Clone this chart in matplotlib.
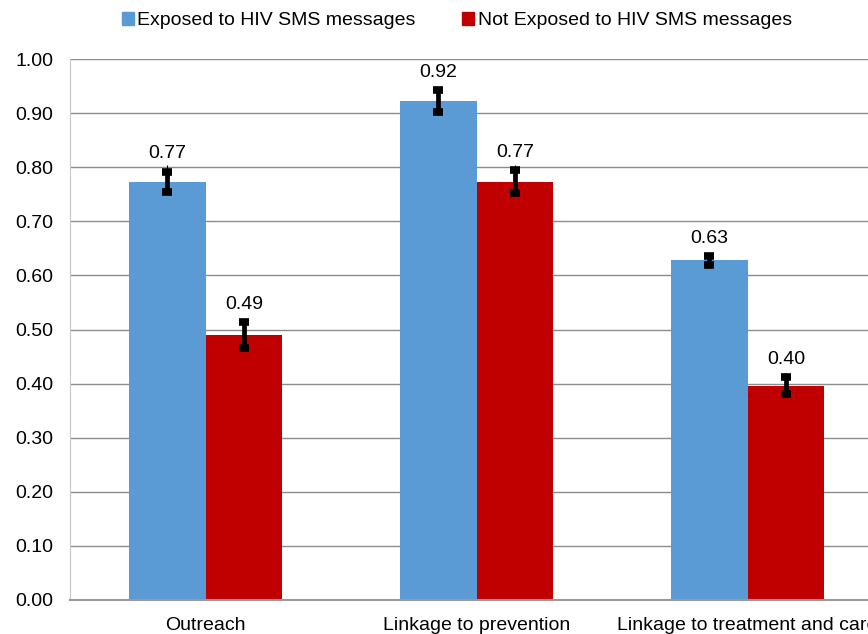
import matplotlib
matplotlib.use("Agg")
import matplotlib.pyplot as plt
from matplotlib.patches import Patch
import numpy as np

categories = ["Outreach", "Linkage to prevention", "Linkage to treatment and care"]
series_names = ["Exposed to HIV SMS messages", "Not Exposed to HIV SMS messages"]
exposed = [0.773, 0.922, 0.628]
not_exposed = [0.490, 0.773, 0.396]
exposed_err = [0.019, 0.020, 0.008]
not_exposed_err = [0.024, 0.021, 0.016]
exposed_upper = [0.031, 0.027, 0.0]
not_exposed_upper = [0.0, 0.031, 0.024]
exposed_labels = ["0.77", "0.92", "0.63"]
not_exposed_labels = ["0.49", "0.77", "0.40"]
yticks = [0.0, 0.1, 0.2, 0.3, 0.4, 0.5, 0.6, 0.7, 0.8, 0.9, 1.0]

blue = "#5B9BD5"
red = "#C00000"
fs = 14

plt.rcParams["font.family"] = ["Liberation Sans", "DejaVu Sans"]

fig = plt.figure(figsize=(8.68, 6.34), dpi=100)
ax = fig.add_axes([70/868, 34/634, 813/868, 541/634])

x = np.arange(len(categories))
w = 0.284
ax.bar(x - w/2, exposed, w, color=blue, zorder=2)
ax.bar(x + w/2, not_exposed, w, color=red, zorder=2)

thin = dict(fmt="none", ecolor="black", elinewidth=0.8, capsize=0, zorder=3)
ax.errorbar(x - w/2, exposed, yerr=[np.zeros(3), exposed_upper], **thin)
ax.errorbar(x + w/2, not_exposed, yerr=[np.zeros(3), not_exposed_upper], **thin)

ekw = dict(fmt="none", ecolor="black", elinewidth=3.4, capsize=3.4, capthick=5.5, zorder=4)
ax.errorbar(x - w/2, exposed, yerr=exposed_err, **ekw)
ax.errorbar(x + w/2, not_exposed, yerr=not_exposed_err, **ekw)

for xi, v, e, lab in zip(x - w/2, exposed, exposed_err, exposed_labels):
    ax.annotate(lab, (xi, v + e), xytext=(0, 9.5), textcoords="offset points",
                ha="center", va="baseline", fontsize=fs)
for xi, v, e, lab in zip(x + w/2, not_exposed, not_exposed_err, not_exposed_labels):
    ax.annotate(lab, (xi, v + e), xytext=(0, 9.5), textcoords="offset points",
                ha="center", va="baseline", fontsize=fs)

ax.set_xlim(-0.5, len(categories) - 0.5)
ax.set_ylim(0, 1.0)
ax.set_yticks(yticks)
ax.set_yticklabels([f"{t:.2f}" for t in yticks], fontsize=fs)
ax.set_xticks(x)
ax.set_xticklabels(categories, fontsize=fs)
ax.tick_params(axis="y", length=0, pad=12)
ax.tick_params(axis="x", length=0, pad=12)
ax.yaxis.grid(True, color="#8c8c8c", linewidth=1.0, zorder=0)
ax.set_axisbelow(True)
for s in ["top", "right"]:
    ax.spines[s].set_visible(False)
ax.spines["left"].set_color("#c8c8c8")
ax.spines["left"].set_linewidth(0.8)
ax.spines["bottom"].set_color("#9a9a9a")
ax.spines["bottom"].set_linewidth(1.5)
ax.spines["bottom"].set_zorder(4)

handles = [Patch(color=blue), Patch(color=red)]
fig.legend(handles, series_names, loc="center", bbox_to_anchor=(0.5265, 0.967),
           ncol=2, frameon=False, fontsize=fs, handlelength=0.6, handleheight=0.6,
           handletextpad=0.2, columnspacing=2.4)

fig.savefig("out.png", dpi=100)
